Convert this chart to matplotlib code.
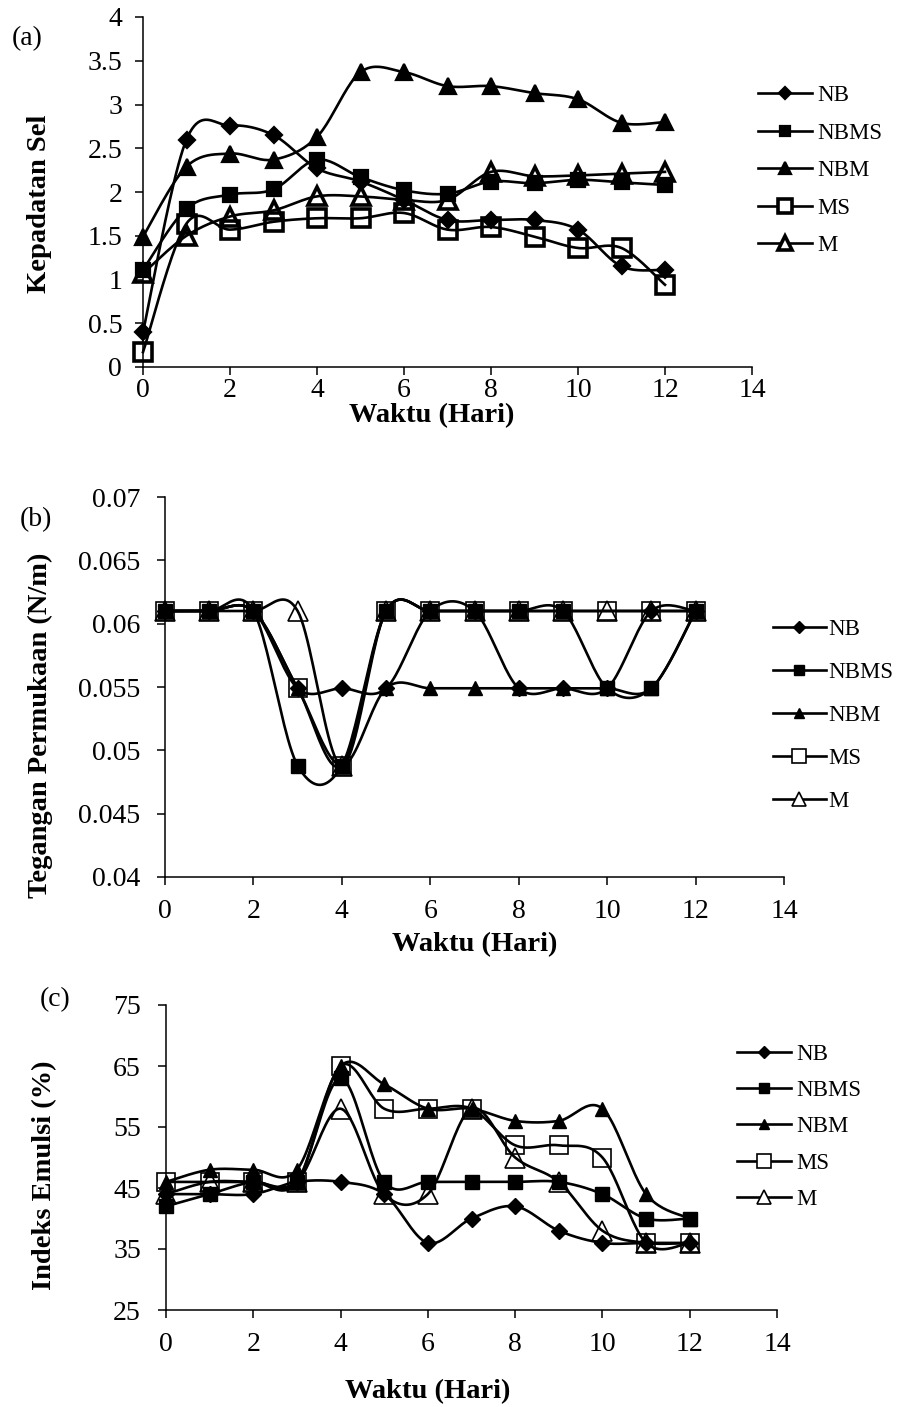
import numpy as np
import matplotlib
matplotlib.use("Agg")
import matplotlib.pyplot as plt
from matplotlib.lines import Line2D

plt.rcParams['font.family'] = ['Liberation Serif', 'DejaVu Serif']

# ---------------- data ----------------
days = list(range(13))
series_names = ['NB', 'NBMS', 'NBM', 'MS', 'M']

# (a) Kepadatan Sel
dens_NB = [0.40, 2.60, 2.76, 2.65, 2.27, 2.12, 1.91, 1.68, 1.68, 1.68, 1.57, 1.15, 1.11]
dens_NBMS = [1.11, 1.81, 1.97, 2.03, 2.37, 2.17, 2.02, 1.98, 2.12, 2.10, 2.14, 2.11, 2.08]
dens_NBM = [1.49, 2.29, 2.44, 2.37, 2.63, 3.37, 3.37, 3.21, 3.21, 3.13, 3.06, 2.79, 2.80]
dens_MS = [0.17, 1.64, 1.57, 1.66, 1.70, 1.70, 1.76, 1.57, 1.60, 1.49, 1.36, 1.36, 0.94]
dens_M = [1.07, 1.50, 1.72, 1.79, 1.95, 1.95, 1.91, 1.91, 2.23, 2.18, 2.19, 2.21, 2.23]

# (b) Tegangan Permukaan (N/m)
st_NB = [0.061, 0.061, 0.061, 0.0549, 0.0549, 0.0549, 0.061, 0.061, 0.0549, 0.0549, 0.0549, 0.061, 0.061]
st_NBMS = [0.061, 0.061, 0.061, 0.0488, 0.0488, 0.061, 0.061, 0.061, 0.061, 0.061, 0.0549, 0.0549, 0.061]
st_NBM = [0.061, 0.061, 0.061, 0.0549, 0.0488, 0.0549, 0.0549, 0.0549, 0.0549, 0.0549, 0.0549, 0.0549, 0.061]
st_MS = [0.061, 0.061, 0.061, 0.0549, 0.0488, 0.061, 0.061, 0.061, 0.061, 0.061, 0.061, 0.061, 0.061]
st_M = [0.061, 0.061, 0.061, 0.061, 0.0488, 0.061, 0.061, 0.061, 0.061, 0.061, 0.061, 0.061, 0.061]

# (c) Indeks Emulsi (%)
em_NB = [44, 44, 44, 46, 46, 44, 36, 40, 42, 38, 36, 36, 36]
em_NBMS = [42, 44, 46, 46, 63, 46, 46, 46, 46, 46, 44, 40, 40]
em_NBM = [46, 48, 48, 48, 65, 62, 58, 58, 56, 56, 58, 44, 40]
em_MS = [46, 46, 46, 46, 65, 58, 58, 58, 52, 52, 50, 36, 36]
em_M = [44, 46, 46, 46, 58, 44, 44, 58, 50, 46, 38, 36, 36]

x_ticks = [0, 2, 4, 6, 8, 10, 12, 14]
yticks_a = [0, 0.5, 1, 1.5, 2, 2.5, 3, 3.5, 4]
yticks_b = [0.04, 0.045, 0.05, 0.055, 0.06, 0.065, 0.07]
yticks_c = [25, 35, 45, 55, 65, 75]
xlabel = 'Waktu (Hari)'

# ---------------- helpers ----------------
W, H = 900, 1407


def fx(px):
    return px / W


def fy(py):
    return 1 - py / H


def smooth(x, y, n=24):
    """Excel-like smoothed line (Catmull-Rom as cubic Bezier)."""
    x = np.asarray(x, float)
    y = np.asarray(y, float)
    P = np.column_stack([x, y])
    N = len(P)
    out = []
    t = np.linspace(0, 1, n)
    for i in range(N - 1):
        p0 = P[max(i - 1, 0)]
        p1 = P[i]
        p2 = P[i + 1]
        p3 = P[min(i + 2, N - 1)]
        c1 = p1 + (p2 - p0) / 6.0
        c2 = p2 - (p3 - p1) / 6.0
        seg = ((1 - t) ** 3)[:, None] * p1 + (3 * (1 - t) ** 2 * t)[:, None] * c1 \
            + (3 * (1 - t) * t ** 2)[:, None] * c2 + (t ** 3)[:, None] * p2
        out.append(seg if i == 0 else seg[1:])
    S = np.vstack(out)
    return S[:, 0], S[:, 1]


markers = ['D', 's', '^', 's', '^']
filled = [True, True, True, False, False]

fig = plt.figure(figsize=(9, 14.07), dpi=100)

LW = 1.9


def style_axes(ax, yticks, ylim):
    ax.set_xlim(0, 14)
    ax.set_ylim(*ylim)
    ax.set_xticks(x_ticks)
    ax.set_yticks(yticks)
    ax.set_yticklabels([('%g' % v) for v in yticks])
    for s in ['top', 'right']:
        ax.spines[s].set_visible(False)
    for s in ['left', 'bottom']:
        ax.spines[s].set_linewidth(1.1)
    ax.tick_params(axis='both', direction='out', length=6, width=1.1,
                   labelsize=20)
    ax.set_facecolor('none')


def draw_panel(ax, data, msizes, mew_open, mew_fill):
    handles = []
    for i, (name, vals) in enumerate(zip(series_names, data)):
        sx, sy = smooth(days, vals)
        ax.plot(sx, sy, color='black', lw=LW, zorder=2 + i, clip_on=False)
        ms = msizes[i]
        if filled[i]:
            ax.plot(days, vals, ls='none', marker=markers[i], ms=ms,
                    mfc='black', mec='black', mew=mew_fill, zorder=2 + i,
                    clip_on=False)
        else:
            ax.plot(days, vals, ls='none', marker=markers[i], ms=ms,
                    mfc='none', mec='black', mew=mew_open, zorder=2 + i,
                    clip_on=False)
        handles.append(Line2D([], [], color='black', lw=LW, marker=markers[i],
                              ms=ms * 0.75,
                              mfc='black' if filled[i] else 'white',
                              mec='black',
                              mew=mew_fill if filled[i] else mew_open))
    return handles


# ---------------- panel (a) ----------------
axA = fig.add_axes([fx(143), fy(367), (752 - 143) / W, (367 - 17) / H])
style_axes(axA, yticks_a, (0, 4))
hA = draw_panel(axA, [dens_NB, dens_NBMS, dens_NBM, dens_MS, dens_M],
                msizes=[8.5, 10.5, 11.5, 13, 13], mew_open=2.6, mew_fill=1.6)
axA.tick_params(axis='x', pad=2)
axA.tick_params(axis='y', pad=9)
axA.legend(hA, series_names, loc='upper left',
           bbox_to_anchor=(fx(758), fy(85)), bbox_transform=fig.transFigure,
           frameon=False, borderpad=0, borderaxespad=0, fontsize=16.5,
           handlelength=2.35, handletextpad=0.25, labelspacing=0.72)
fig.text(fx(432), fy(416), xlabel, ha='center', va='center',
         fontsize=20.5, fontweight='bold')
fig.text(fx(40), fy(204), 'Kepadatan Sel', ha='center', va='center',
         rotation=90, fontsize=20.5, fontweight='bold')
fig.text(fx(12), fy(39), '(a)', ha='left', va='center', fontsize=20)

# ---------------- panel (b) ----------------
axB = fig.add_axes([fx(165), fy(877), (784 - 165) / W, (877 - 497) / H])
style_axes(axB, yticks_b, (0.04, 0.07))
hB = draw_panel(axB, [st_NB, st_NBMS, st_NBM, st_MS, st_M],
                msizes=[8, 10, 10, 13, 14], mew_open=1.2, mew_fill=1.0)
axB.tick_params(axis='x', pad=10)
axB.tick_params(axis='y', pad=12)
axB.legend(hB, series_names, loc='upper left',
           bbox_to_anchor=(fx(773), fy(619)), bbox_transform=fig.transFigure,
           frameon=False, borderpad=0, borderaxespad=0, fontsize=16.5,
           handlelength=2.3, handletextpad=0.1, labelspacing=0.96)
fig.text(fx(475), fy(945), xlabel, ha='center', va='center',
         fontsize=20.5, fontweight='bold')
fig.text(fx(40), fy(725), 'Tegangan Permukaan (N/m)', ha='center',
         va='center', rotation=90, fontsize=20.5, fontweight='bold')
fig.text(fx(20), fy(520), '(b)', ha='left', va='center', fontsize=20)

# ---------------- panel (c) ----------------
axC = fig.add_axes([fx(166), fy(1310), (777 - 166) / W, (1310 - 1005) / H])
style_axes(axC, yticks_c, (25, 75))
hC = draw_panel(axC, [em_NB, em_NBMS, em_NBM, em_MS, em_M],
                msizes=[8, 10, 10, 13, 14], mew_open=1.2, mew_fill=1.0)
axC.tick_params(axis='x', pad=10)
axC.tick_params(axis='y', pad=12)
axC.legend(hC, series_names, loc='upper left',
           bbox_to_anchor=(fx(737), fy(1044)), bbox_transform=fig.transFigure,
           frameon=False, borderpad=0, borderaxespad=0, fontsize=16.5,
           handlelength=2.35, handletextpad=0.25, labelspacing=0.66)
fig.text(fx(428), fy(1392), xlabel, ha='center', va='center',
         fontsize=20.5, fontweight='bold')
fig.text(fx(45), fy(1175), 'Indeks Emulsi (%)', ha='center', va='center',
         rotation=90, fontsize=20.5, fontweight='bold')
fig.text(fx(40), fy(1000), '(c)', ha='left', va='center', fontsize=20)

fig.savefig('out.png', dpi=100, facecolor='white')
